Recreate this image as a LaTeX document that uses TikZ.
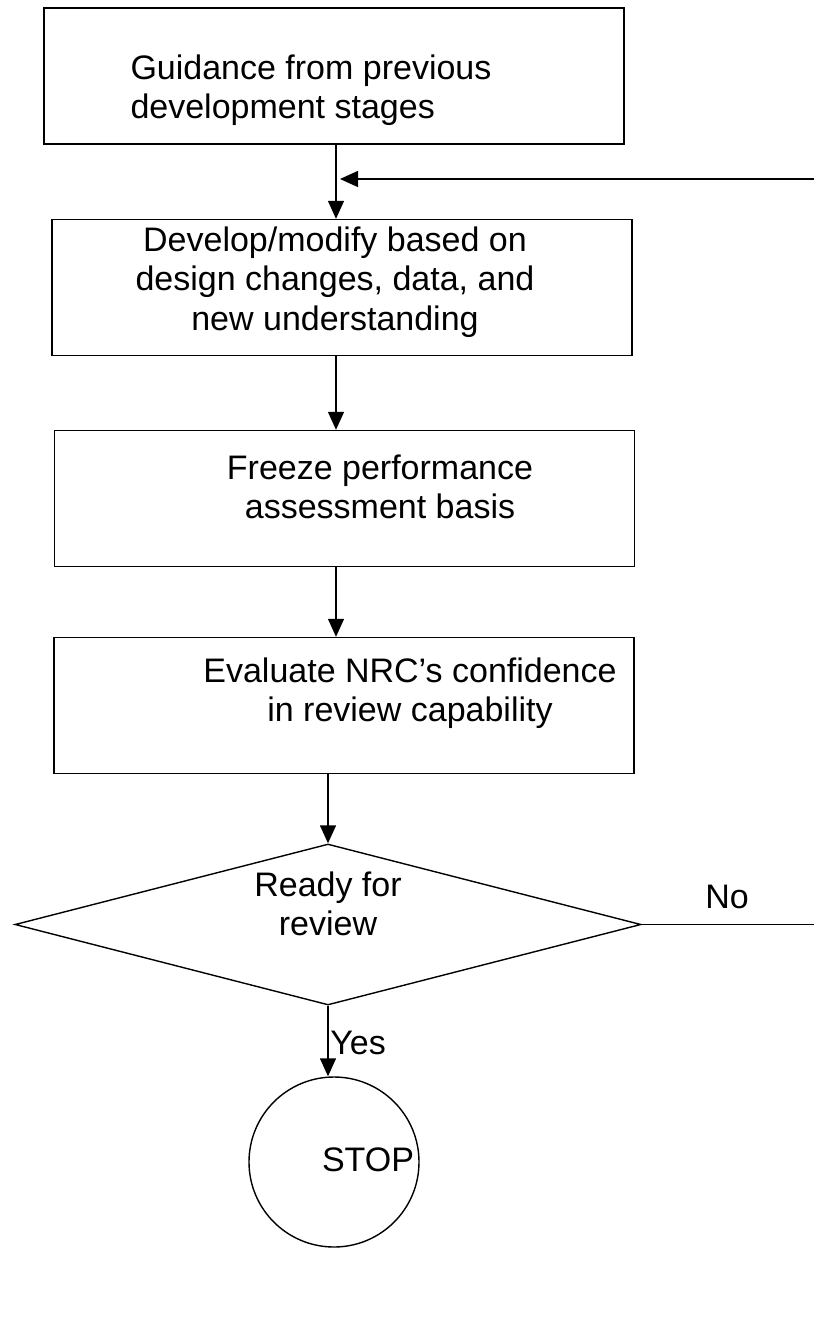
\documentclass[tikz,border=0pt]{standalone}
\usepackage{fontspec}
\setmainfont{Liberation Sans}
\usetikzlibrary{arrows.meta,shapes.geometric}
\begin{document}
\begin{tikzpicture}[x=1pt,y=-1pt,
  box/.style={draw,line width=1.4pt,minimum width=580pt,minimum height=136pt,inner sep=0pt},
  txt/.style={font=\fontsize{34}{39.5}\selectfont,inner sep=0pt},
  arr/.style={line width=1.4pt,-{Triangle[length=18pt,width=16pt]}},
  ln/.style={line width=1.4pt}]
\useasboundingbox (0,0) rectangle (814,1332);
\node[box] (b1) at (334,76) {};
\node[box] (b2) at (342,287.5) {};
\node[box] (b3) at (344.5,498.5) {};
\node[box] (b4) at (344,705.5) {};
\node[txt,align=left] (t1) at (311,90) {Guidance from previous\\development stages};
\node[txt,align=center] (t2) at (335,282) {Develop/modify based on\\design changes, data, and\\new understanding};
\node[txt,align=center] (t3) at (380,487) {Freeze performance\\assessment basis};
\node[txt,align=center] (t4) at (410,693) {Evaluate NRC’s confidence\\in review capability};
\node[draw,line width=1.4pt,shape=diamond,aspect=3.9,minimum width=626pt,minimum height=161pt,inner sep=0pt] (dia) at (328,924.5) {};
\node[txt,align=center] (td) at (328,904) {Ready for\\review};
\node[draw,line width=1.4pt,circle,minimum size=170pt,inner sep=0pt] (stop) at (334,1162) {};
\node[txt] (ts) at (368,1160) {STOP};
\coordinate (fb) at (814,179);
\coordinate (fbend) at (340,179);
\coordinate (no) at (814,924.5);
\draw[arr] (b1.south -| 336,0) -- (b2.north -| 336,0);
\draw[arr] (fb) -- (fbend);
\draw[arr] (b2.south -| 336,0) -- (b3.north -| 336,0);
\draw[arr] (b3.south -| 336,0) -- (b4.north -| 336,0);
\draw[arr] (b4.south -| dia.north) -- (dia.north);
\draw[ln] (dia.east) -- (no);
\node[txt] (nolbl) at (727,897) {No};
\draw[arr] (dia.south) -- (dia.south |- stop.north);
\node[txt] (yes) at (358,1043) {Yes};
\end{tikzpicture}
\end{document}
